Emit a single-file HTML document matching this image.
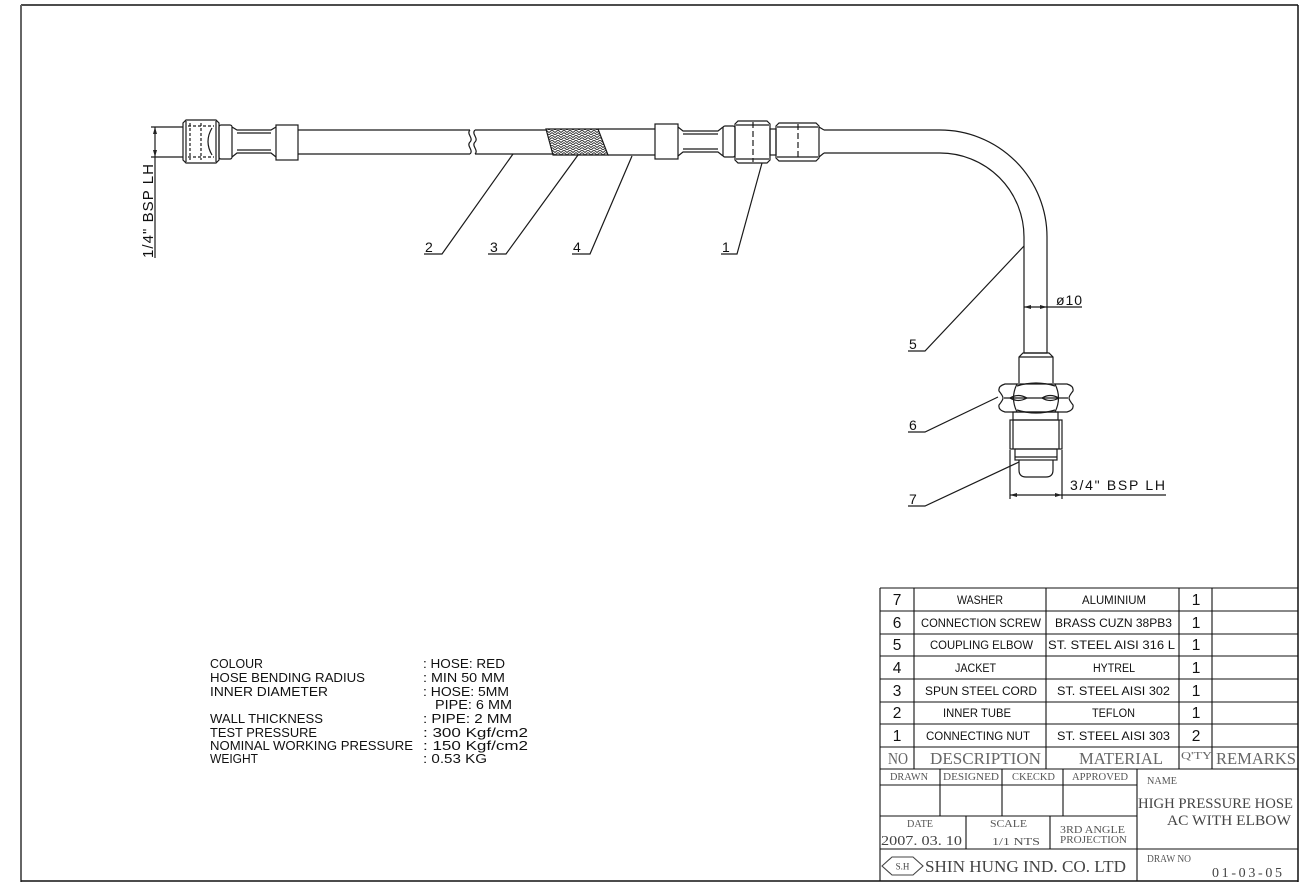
<!DOCTYPE html>
<html><head><meta charset="utf-8"><style>
html,body{margin:0;padding:0;background:#fff;}
svg{display:block;}
text{font-family:"Liberation Sans",Arial,sans-serif;fill:#111;}
.s{font-family:"Liberation Serif","Times New Roman",serif;}
</style></head><body>
<svg width="1316" height="886" viewBox="0 0 1316 886" xmlns="http://www.w3.org/2000/svg">
<defs>
<pattern id="br" width="6" height="5" patternUnits="userSpaceOnUse">
<rect width="6" height="5" fill="#fff"/>
<path d="M0,0 L3,2.5 L6,0 M0,2.5 L3,5 L6,2.5" stroke="#333" stroke-width="1" fill="none"/>
</pattern>
</defs>
<rect width="1316" height="886" fill="#fff"/>
<!-- outer border -->
<line x1="21" y1="5" x2="1298" y2="5" stroke="#111" stroke-width="1.5"/>
<line x1="21" y1="5" x2="21" y2="882" stroke="#666" stroke-width="2"/>
<line x1="1298" y1="5" x2="1298" y2="882" stroke="#111" stroke-width="1.5"/>
<line x1="21" y1="881" x2="1298" y2="881" stroke="#111" stroke-width="1.5"/>

<g fill="none" stroke="#1a1a1a" stroke-width="1.2">
<!-- left dimension -->
<line x1="151" y1="127" x2="183" y2="127"/>
<line x1="151" y1="157" x2="183" y2="157"/>
<line x1="155" y1="127" x2="155" y2="258"/>
<!-- left nut -->
<path d="M186,120 H216 L219,123 V160 L216,163 H186 L183,160 V123 Z"/>
<line x1="186" y1="121" x2="186" y2="162"/>
<line x1="216" y1="121" x2="216" y2="162"/>
<line x1="188" y1="126" x2="214" y2="126" stroke-dasharray="3,2"/>
<line x1="188" y1="157" x2="214" y2="157" stroke-dasharray="3,2"/>
<line x1="201" y1="123" x2="201" y2="160" stroke-dasharray="3,2"/>
<line x1="190" y1="123" x2="190" y2="160" stroke-dasharray="3,2"/>
<path d="M212,128 Q204,141.5 212,155"/>
<!-- collar -->
<rect x="219" y="125" width="13" height="34" rx="2"/>
<!-- neck -->
<path d="M232,127 L237,130 H271 L276,127 M232,157 L237,153 H271 L276,157"/>
<line x1="237" y1="133" x2="271" y2="133"/>
<line x1="237" y1="150" x2="271" y2="150"/>
<!-- ferrule -->
<rect x="276" y="125" width="22" height="35"/>
<!-- hose seg 1 -->
<line x1="298" y1="130" x2="470" y2="130"/>
<line x1="298" y1="154" x2="470" y2="154"/>
<path d="M470,130 C466,134 474,138 470,142 C466,146 474,150 470,154"/>
<!-- hose seg 2 -->
<path d="M475,130 C471,134 479,138 475,142 C471,146 479,150 475,154"/>
<line x1="475" y1="130" x2="547" y2="130"/>
<line x1="475" y1="154" x2="554" y2="154"/>
<!-- braid -->
<path d="M546,129 L598,129 L608,155 L553,155 Z" fill="url(#br)"/>
<!-- jacket -->
<line x1="598" y1="129" x2="655" y2="129"/>
<line x1="608" y1="155" x2="655" y2="155"/>
<!-- right fitting -->
<rect x="655" y="124" width="23" height="35"/>
<path d="M678,127 L683,131 H718 L723,127 M678,156 L683,152 H718 L723,156"/>
<line x1="683" y1="134" x2="718" y2="134"/>
<line x1="683" y1="149" x2="718" y2="149"/>
<rect x="723" y="126" width="12" height="31" rx="2"/>
<path d="M738,121 H767 L770,124 V160 L767,163 H738 L735,160 V124 Z"/>
<line x1="736" y1="125" x2="769" y2="125"/>
<line x1="736" y1="159" x2="769" y2="159"/>
<line x1="753" y1="122" x2="753" y2="162" stroke-dasharray="6,3"/>
<rect x="770" y="129" width="6" height="26"/>
<path d="M779,123 H816 L819,126 V158 L816,161 H779 L776,158 V126 Z"/>
<line x1="777" y1="127" x2="818" y2="127"/>
<line x1="777" y1="157" x2="818" y2="157"/>
<line x1="798" y1="124" x2="798" y2="160" stroke-dasharray="6,3"/>
<path d="M819,127 L824,130 M819,157 L824,153"/>
<!-- pipe with elbow -->
<path d="M824,130 H940 A107,107 0 0 1 1047,237 V353"/>
<path d="M824,153 H940 A84,84 0 0 1 1024,237 V353"/>
<line x1="1024" y1="353" x2="1047" y2="353"/>
<path d="M1019,383 V357 L1023,353 H1049 L1053,357 V383"/>
<line x1="1019" y1="357" x2="1053" y2="357"/>
<!-- hex nut part 6 -->
<path d="M1005,384 H1067 Q1074,386 1073,391 Q1069,396 1069,398 Q1069,400 1073,405 Q1074,410 1067,412 H1005 Q998,410 999,405 Q1003,400 1003,398 Q1003,396 999,391 Q998,386 1005,384 Z"/>
<path d="M1017,384 Q1010,398 1017,412 M1055,384 Q1062,398 1055,412"/>
<path d="M1017,386 Q1036,380 1055,386 M1017,410 Q1036,416 1055,410"/>
<path d="M1010,398 Q1018,393 1027,398 Q1018,403 1010,398 Z M1042,398 Q1050,393 1059,398 Q1050,403 1042,398 Z"/>
<line x1="1004" y1="398" x2="1068" y2="398"/>
<!-- neck + thread -->
<rect x="1013" y="412" width="45" height="8"/>
<rect x="1010" y="420" width="52" height="29"/>
<line x1="1013" y1="420" x2="1013" y2="449"/>
<line x1="1059" y1="420" x2="1059" y2="449"/>
<!-- washer -->
<rect x="1015" y="449" width="42" height="11"/>
<line x1="1015" y1="457" x2="1057" y2="457"/>
<!-- tip -->
<path d="M1019,460 V470 Q1019,477 1026,477 H1046 Q1053,477 1053,470 V460"/>
<!-- 3/4 dimension -->
<line x1="1010" y1="450" x2="1010" y2="499"/>
<line x1="1062" y1="450" x2="1062" y2="499"/>
<line x1="1010" y1="495" x2="1166" y2="495"/>
<!-- phi10 dimension -->
<line x1="1024" y1="307" x2="1082" y2="307"/>
<!-- leaders -->
<path d="M424,254 H442 L513,154"/>
<path d="M488,254 H506 L578,155"/>
<path d="M572,254 H590 L632,156"/>
<path d="M721,254 H737 L762,163"/>
<path d="M908,351 H925 L1024,246"/>
<path d="M908,432 H925 L998,397"/>
<path d="M908,506 H925 L1019,462"/>
</g>
<!-- arrowheads -->
<g fill="#222">
<polygon points="155,127 153,134 157,134"/>
<polygon points="155,157 153,150 157,150"/>
<polygon points="1010,495 1017,493 1017,497"/>
<polygon points="1062,495 1055,493 1055,497"/>
<polygon points="1024,307 1031,305 1031,309"/>
<polygon points="1047,307 1040,305 1040,309"/>
</g>

<!-- drawing labels -->
<text transform="translate(153,258) rotate(-90)" font-size="15" textLength="94" lengthAdjust="spacing">1/4" BSP LH</text>
<text x="1070" y="490" font-size="14" textLength="95" lengthAdjust="spacing">3/4" BSP LH</text>
<text x="1056" y="305" font-size="14" textLength="26" lengthAdjust="spacing">ø10</text>
<g font-size="14">
<text x="425" y="252">2</text>
<text x="490" y="252">3</text>
<text x="573" y="252">4</text>
<text x="722" y="252">1</text>
<text x="909" y="349">5</text>
<text x="909" y="430">6</text>
<text x="909" y="504">7</text>
</g>

<!-- notes -->
<g font-size="12.8">
<text x="210" y="668" textLength="53" lengthAdjust="spacingAndGlyphs">COLOUR</text>
<text x="210" y="682" textLength="155" lengthAdjust="spacingAndGlyphs">HOSE BENDING RADIUS</text>
<text x="210" y="696" textLength="118" lengthAdjust="spacingAndGlyphs">INNER DIAMETER</text>
<text x="210" y="723" textLength="113" lengthAdjust="spacingAndGlyphs">WALL THICKNESS</text>
<text x="210" y="737" textLength="107" lengthAdjust="spacingAndGlyphs">TEST PRESSURE</text>
<text x="210" y="750" textLength="203" lengthAdjust="spacingAndGlyphs">NOMINAL WORKING PRESSURE</text>
<text x="210" y="763" textLength="48" lengthAdjust="spacingAndGlyphs">WEIGHT</text>
<text x="423" y="668" textLength="82" lengthAdjust="spacingAndGlyphs">: HOSE: RED</text>
<text x="423" y="682" textLength="82" lengthAdjust="spacingAndGlyphs">: MIN 50 MM</text>
<text x="423" y="696" textLength="86" lengthAdjust="spacingAndGlyphs">: HOSE: 5MM</text>
<text x="435" y="709" textLength="77" lengthAdjust="spacingAndGlyphs">PIPE: 6 MM</text>
<text x="423" y="723" textLength="89" lengthAdjust="spacingAndGlyphs">: PIPE: 2 MM</text>
<text x="423" y="737" textLength="105" lengthAdjust="spacingAndGlyphs">: 300 Kgf/cm2</text>
<text x="423" y="750" textLength="105" lengthAdjust="spacingAndGlyphs">: 150 Kgf/cm2</text>
<text x="423" y="763" textLength="64" lengthAdjust="spacingAndGlyphs">: 0.53 KG</text>
</g>

<!-- parts table -->
<g stroke="#111" stroke-width="1.1" fill="none">
<line x1="880" y1="588" x2="1298" y2="588"/>
<line x1="880" y1="611" x2="1298" y2="611"/>
<line x1="880" y1="634" x2="1298" y2="634"/>
<line x1="880" y1="656" x2="1298" y2="656"/>
<line x1="880" y1="679" x2="1298" y2="679"/>
<line x1="880" y1="702" x2="1298" y2="702"/>
<line x1="880" y1="724" x2="1298" y2="724"/>
<line x1="880" y1="747" x2="1298" y2="747"/>
<line x1="880" y1="769" x2="1298" y2="769"/>
<line x1="880" y1="588" x2="880" y2="881"/>
<line x1="914" y1="588" x2="914" y2="769"/>
<line x1="1046" y1="588" x2="1046" y2="769"/>
<line x1="1179" y1="588" x2="1179" y2="769"/>
<line x1="1212" y1="588" x2="1212" y2="769"/>
<!-- title block lower -->
<line x1="880" y1="785" x2="1137" y2="785"/>
<line x1="880" y1="816" x2="1137" y2="816"/>
<line x1="880" y1="849" x2="1298" y2="849"/>
<line x1="940" y1="769" x2="940" y2="816"/>
<line x1="1002" y1="769" x2="1002" y2="816"/>
<line x1="1063" y1="769" x2="1063" y2="816"/>
<line x1="966" y1="816" x2="966" y2="849"/>
<line x1="1050" y1="816" x2="1050" y2="849"/>
<line x1="1137" y1="769" x2="1137" y2="881"/>
</g>

<g font-size="15.5" text-anchor="middle">
<text x="897" y="605">7</text>
<text x="897" y="628">6</text>
<text x="897" y="650">5</text>
<text x="897" y="673">4</text>
<text x="897" y="696">3</text>
<text x="897" y="718">2</text>
<text x="897" y="741">1</text>
<text x="1196" y="605">1</text>
<text x="1196" y="628">1</text>
<text x="1196" y="650">1</text>
<text x="1196" y="673">1</text>
<text x="1196" y="696">1</text>
<text x="1196" y="718">1</text>
<text x="1196" y="741">2</text>
</g>
<g font-size="11.5">
<text x="957" y="604" textLength="46" lengthAdjust="spacingAndGlyphs">WASHER</text>
<text x="1082" y="604" textLength="64" lengthAdjust="spacingAndGlyphs">ALUMINIUM</text>
<text x="921" y="627" textLength="120" lengthAdjust="spacingAndGlyphs">CONNECTION SCREW</text>
<text x="1055" y="627" textLength="117" lengthAdjust="spacingAndGlyphs">BRASS CUZN 38PB3</text>
<text x="930" y="649" textLength="103" lengthAdjust="spacingAndGlyphs">COUPLING ELBOW</text>
<text x="1048" y="649" textLength="127" lengthAdjust="spacingAndGlyphs">ST. STEEL AISI 316 L</text>
<text x="955" y="672" textLength="41" lengthAdjust="spacingAndGlyphs">JACKET</text>
<text x="1093" y="672" textLength="42" lengthAdjust="spacingAndGlyphs">HYTREL</text>
<text x="925" y="695" textLength="112" lengthAdjust="spacingAndGlyphs">SPUN STEEL CORD</text>
<text x="1057" y="695" textLength="113" lengthAdjust="spacingAndGlyphs">ST. STEEL AISI 302</text>
<text x="943" y="717" textLength="68" lengthAdjust="spacingAndGlyphs">INNER TUBE</text>
<text x="1092" y="717" textLength="43" lengthAdjust="spacingAndGlyphs">TEFLON</text>
<text x="926" y="740" textLength="104" lengthAdjust="spacingAndGlyphs">CONNECTING NUT</text>
<text x="1057" y="740" textLength="113" lengthAdjust="spacingAndGlyphs">ST. STEEL AISI 303</text>
</g>

<g class="s">
<text class="s" x="888" y="764" font-size="16.5" style="fill:#666" textLength="20" lengthAdjust="spacingAndGlyphs">NO</text>
<text class="s" x="930" y="764" font-size="16.5" style="fill:#666" textLength="111" lengthAdjust="spacingAndGlyphs">DESCRIPTION</text>
<text class="s" x="1079" y="764" font-size="16.5" style="fill:#666" textLength="84" lengthAdjust="spacingAndGlyphs">MATERIAL</text>
<text class="s" x="1181" y="759" font-size="10" style="fill:#666" textLength="31" lengthAdjust="spacingAndGlyphs">Q'TY</text>
<text class="s" x="1216" y="764" font-size="16.5" style="fill:#666" textLength="80" lengthAdjust="spacingAndGlyphs">REMARKS</text>

<text class="s" x="890" y="780" font-size="10" style="fill:#555" textLength="38" lengthAdjust="spacingAndGlyphs">DRAWN</text>
<text class="s" x="943" y="780" font-size="10" style="fill:#555" textLength="56" lengthAdjust="spacingAndGlyphs">DESIGNED</text>
<text class="s" x="1012" y="780" font-size="10" style="fill:#555" textLength="43" lengthAdjust="spacingAndGlyphs">CKECKD</text>
<text class="s" x="1072" y="780" font-size="10" style="fill:#555" textLength="56" lengthAdjust="spacingAndGlyphs">APPROVED</text>
<text class="s" x="1147" y="784" font-size="10" style="fill:#555" textLength="30" lengthAdjust="spacingAndGlyphs">NAME</text>
<text class="s" x="1138" y="808" font-size="14.5" style="fill:#444" textLength="155" lengthAdjust="spacingAndGlyphs">HIGH PRESSURE HOSE</text>
<text class="s" x="1167" y="825" font-size="14.5" style="fill:#444" textLength="124" lengthAdjust="spacingAndGlyphs">AC WITH ELBOW</text>

<text class="s" x="907" y="827" font-size="10" style="fill:#555" textLength="26" lengthAdjust="spacingAndGlyphs">DATE</text>
<text class="s" x="881" y="845" font-size="14" style="fill:#444" textLength="81" lengthAdjust="spacingAndGlyphs">2007. 03. 10</text>
<text class="s" x="990" y="827" font-size="10" style="fill:#555" textLength="37" lengthAdjust="spacingAndGlyphs">SCALE</text>
<text class="s" x="992" y="845" font-size="11" style="fill:#555" textLength="48" lengthAdjust="spacingAndGlyphs">1/1  NTS</text>
<text class="s" x="1060" y="833" font-size="10" style="fill:#555" textLength="65" lengthAdjust="spacingAndGlyphs">3RD  ANGLE</text>
<text class="s" x="1060" y="843" font-size="10" style="fill:#555" textLength="67" lengthAdjust="spacingAndGlyphs">PROJECTION</text>

<text class="s" x="925" y="872" font-size="17" style="fill:#444" textLength="201" lengthAdjust="spacingAndGlyphs">SHIN HUNG IND. CO. LTD</text>
<text class="s" x="1147" y="862" font-size="10" style="fill:#555" textLength="44" lengthAdjust="spacingAndGlyphs">DRAW NO</text>
<text class="s" x="1212" y="877" font-size="14" style="fill:#444" textLength="70" lengthAdjust="spacing">01-03-05</text>
</g>
<!-- logo -->
<path d="M882,866 L892,857 H913 L923,866 L913,875 H892 Z" fill="none" stroke="#444" stroke-width="1.1"/>
<text class="s" x="902.5" y="869.5" font-size="9" text-anchor="middle" style="fill:#444">S.H</text>
</svg>
</body></html>
